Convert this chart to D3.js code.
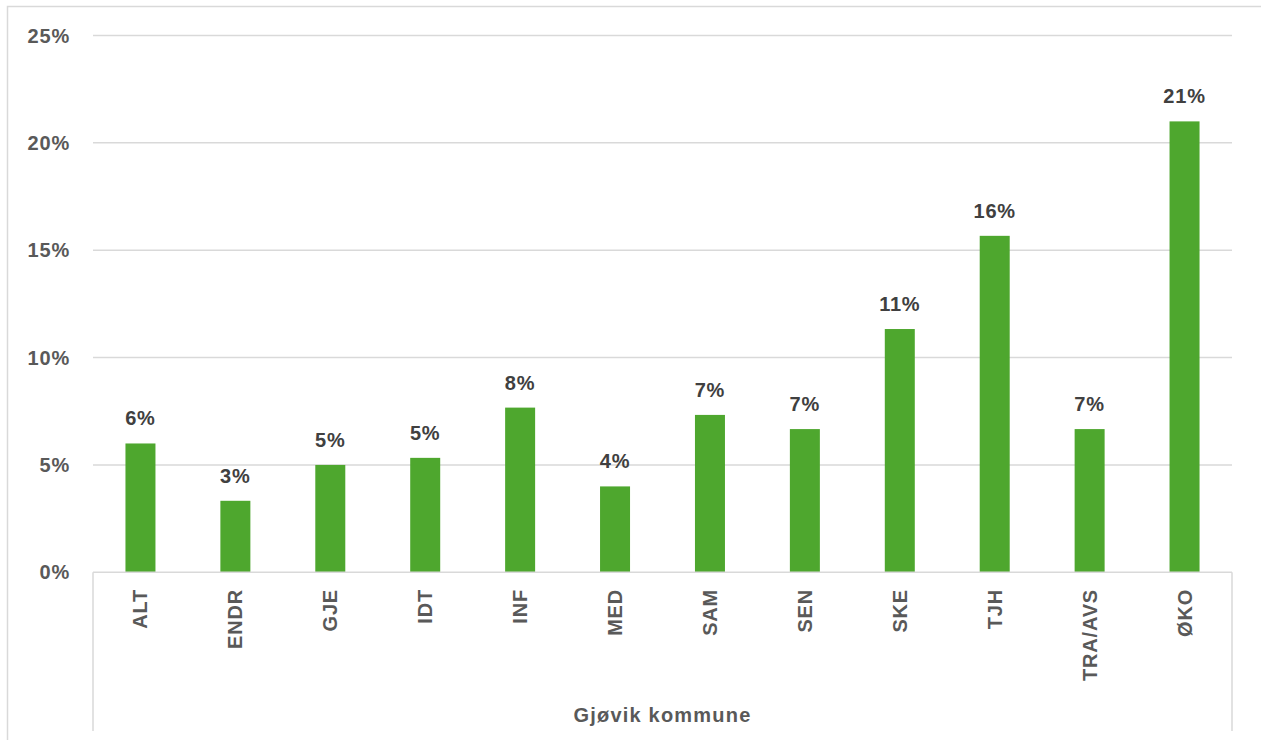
<!DOCTYPE html>
<html>
<head>
<meta charset="utf-8">
<script src="https://cdn.jsdelivr.net/npm/d3@7"></script>
<style>
  html, body { margin: 0; padding: 0; background: #fff; }
  svg { display: block; font-family: "Liberation Sans", Arial, sans-serif; }
</style>
</head>
<body>
<svg id="chart" width="1261" height="740"></svg>
<script>
const categories = ["ALT", "ENDR", "GJE", "IDT", "INF", "MED", "SAM", "SEN", "SKE", "TJH", "TRA/AVS", "ØKO"];
const values = [6.0, 3.33, 5.0, 5.33, 7.67, 4.0, 7.33, 6.67, 11.33, 15.67, 6.67, 21.0];
const labels = ["6%", "3%", "5%", "5%", "8%", "4%", "7%", "7%", "11%", "16%", "7%", "21%"];
const yTicks = [0, 5, 10, 15, 20, 25];
const groupLabel = "Gjøvik kommune";

(function () {
const svg = d3.select("#chart");
const pLeft = 93, pRight = 1232, pTop = 35.5, pBottom = 572.3;
const fs = 20, ls = 0.8;

// outer frame (cropped at right/bottom)
svg.append("rect")
  .attr("x", 7.5).attr("y", 6.5).attr("width", 1300).attr("height", 800)
  .attr("fill", "none").attr("stroke", "#d9d9d9").attr("stroke-width", 1.5);

const x = d3.scaleBand().domain(categories).range([pLeft, pRight])
  .paddingInner(0.684).paddingOuter(0.342);
const y = d3.scaleLinear().domain([0, 25]).range([pBottom, pTop]);

// gridlines
svg.append("g").selectAll("line").data(yTicks.filter(d => d > 0)).join("line")
  .attr("x1", pLeft).attr("x2", pRight)
  .attr("y1", d => y(d)).attr("y2", d => y(d))
  .attr("stroke", "#d9d9d9").attr("stroke-width", 1.5);

// y tick labels
svg.append("g").selectAll("text").data(yTicks).join("text")
  .attr("x", 70).attr("y", d => y(d))
  .attr("text-anchor", "end").attr("dominant-baseline", "central")
  .attr("font-size", fs).attr("letter-spacing", ls).attr("font-weight", "bold").attr("fill", "#595959")
  .text(d => d + "%");

// bars
svg.append("g").selectAll("rect").data(categories).join("rect")
  .attr("x", d => x(d)).attr("width", x.bandwidth())
  .attr("y", (d, i) => y(values[i]))
  .attr("height", (d, i) => y(0) - y(values[i]))
  .attr("fill", "#4ea72e");

// data labels
svg.append("g").selectAll("text").data(categories).join("text")
  .attr("x", d => x(d) + x.bandwidth() / 2)
  .attr("y", (d, i) => y(values[i]) - 18)
  .attr("text-anchor", "middle")
  .attr("font-size", fs).attr("letter-spacing", ls).attr("font-weight", "bold").attr("fill", "#404040")
  .text((d, i) => labels[i]);

// category axis baseline and box lines
svg.append("line").attr("x1", pLeft).attr("x2", pRight).attr("y1", pBottom).attr("y2", pBottom)
  .attr("stroke", "#d9d9d9").attr("stroke-width", 1.5);
svg.append("line").attr("x1", pLeft).attr("x2", pLeft).attr("y1", pBottom).attr("y2", 731)
  .attr("stroke", "#d9d9d9").attr("stroke-width", 1.5);
svg.append("line").attr("x1", pRight).attr("x2", pRight).attr("y1", pBottom).attr("y2", 731)
  .attr("stroke", "#d9d9d9").attr("stroke-width", 1.5);

// category labels (rotated)
svg.append("g").selectAll("text").data(categories).join("text")
  .attr("transform", d => `translate(${x(d) + x.bandwidth() / 2},589) rotate(-90)`)
  .attr("text-anchor", "end").attr("dominant-baseline", "central")
  .attr("font-size", fs).attr("letter-spacing", ls).attr("font-weight", "bold").attr("fill", "#595959")
  .text(d => d);

// group label
svg.append("text")
  .attr("x", (pLeft + pRight) / 2).attr("y", 722)
  .attr("text-anchor", "middle")
  .attr("font-size", fs).attr("letter-spacing", 1.2).attr("font-weight", "bold").attr("fill", "#595959")
  .text(groupLabel);
})();
</script>
</body>
</html>
